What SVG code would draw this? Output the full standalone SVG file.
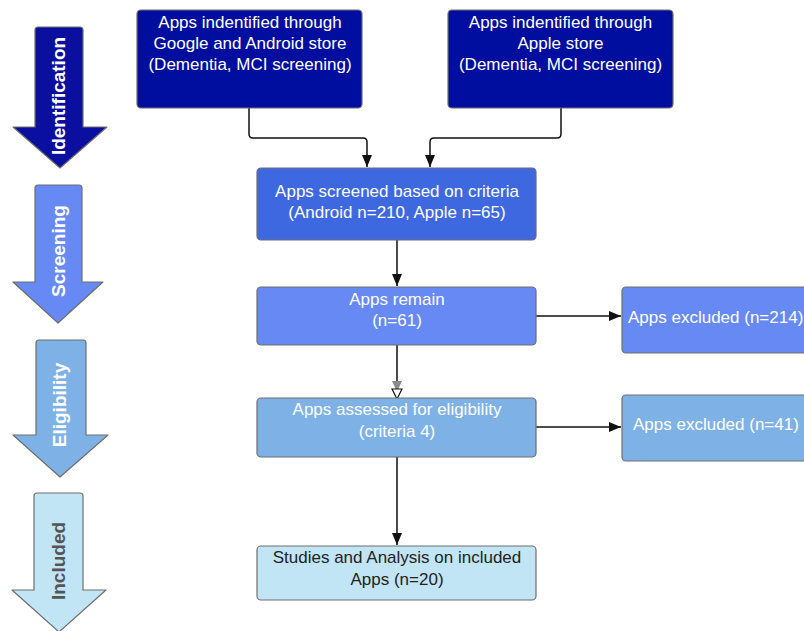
<svg xmlns="http://www.w3.org/2000/svg" width="804" height="631" viewBox="0 0 804 631">
<style>
  .box { stroke: #6e6e6e; stroke-width: 1.2; }
  .t { font-family: "Liberation Sans", Arial, sans-serif; font-size: 17px; text-anchor: middle; fill: #ffffff; }
  .tl { font-family: "Liberation Sans", Arial, sans-serif; font-size: 17px; fill: #ffffff; }
  .dark { fill: #222222; }
  .phase { stroke: #6e6e6e; stroke-width: 1.2; stroke-linejoin: round; }
  .pt { font-family: "Liberation Sans", Arial, sans-serif; font-size: 19px; font-weight: bold; text-anchor: middle; fill: #ffffff; }
  .conn { fill: none; stroke: #111111; stroke-width: 1.5; }
</style>
<defs>
  <marker id="ah" viewBox="0 0 12 10" refX="12" refY="5" markerWidth="12" markerHeight="10" markerUnits="userSpaceOnUse" orient="auto">
    <path d="M0,0 L12,5 L0,10 Z" fill="#111111"/>
  </marker>
</defs>
<rect width="804" height="631" fill="#ffffff"/>

<g id="phase-identification">
  <path class="phase" fill="#0a0fa0" d="M38,27 H80 Q83,27 83,30 V127 H107 L60,168 L13,127 H35 V30 Q35,27 38,27 Z"/>
  <text class="pt" transform="translate(65,96) rotate(-90)">Identification</text>
</g>
<g id="phase-screening">
  <path class="phase" fill="#6689f4" d="M38,185 H79 Q82,185 82,188 V282 H103 L58,323 L13,282 H35 V188 Q35,185 38,185 Z"/>
  <text class="pt" transform="translate(65,251) rotate(-90)">Screening</text>
</g>
<g id="phase-eligibility">
  <path class="phase" fill="#7eb2e6" d="M39,340 H83 Q86,340 86,343 V435 H108 L60,477 L13,435 H36 V343 Q36,340 39,340 Z"/>
  <text class="pt" transform="translate(66,405) rotate(-90)">Eligibility</text>
</g>
<g id="phase-included">
  <path class="phase" fill="#c2e5f6" d="M37,493 H80 Q83,493 83,496 V590 H106 L59,632 L12,590 H34 V496 Q34,493 37,493 Z"/>
  <text class="pt" fill="#555555" style="fill:#555555" transform="translate(65,561) rotate(-90)">Included</text>
</g>

<g id="connectors">
  <path class="conn" d="M249,108 V134 Q249,138 253,138 H363 Q367,138 367,142 V167" marker-end="url(#ah)"/>
  <path class="conn" d="M561,108 V134 Q561,138 557,138 H434 Q430,138 430,142 V167" marker-end="url(#ah)"/>
  <path class="conn" d="M397,240 V286" marker-end="url(#ah)"/>
  <path class="conn" d="M536,316 H621" marker-end="url(#ah)"/>
  <path class="conn" d="M397,345 V398"/>
  <path d="M392,381 L402,381 L397,392 Z" fill="#8a8a8a"/>
  <path d="M392,389 L402,389 L397,399 Z" fill="#ffffff" stroke="#111111" stroke-width="1.2"/>
  <path class="conn" d="M536,427 H621" marker-end="url(#ah)"/>
  <path class="conn" d="M397,457 V545" marker-end="url(#ah)"/>
</g>

<g id="google-store">
  <rect class="box" x="137" y="10" width="225" height="98" rx="4" fill="#000ea0"/>
  <text class="t" x="250" y="28">Apps indentified through</text>
  <text class="t" x="250" y="49">Google and Android store</text>
  <text class="t" x="250" y="70">(Dementia, MCI screening)</text>
</g>
<g id="apple-store">
  <rect class="box" x="448" y="10" width="225" height="98" rx="4" fill="#000ea0"/>
  <text class="t" x="560.5" y="28">Apps indentified through</text>
  <text class="t" x="560.5" y="49">Apple store</text>
  <text class="t" x="560.5" y="70">(Dementia, MCI screening)</text>
</g>
<g id="screened">
  <rect class="box" x="257" y="168" width="279" height="72" rx="4" fill="#3e68df"/>
  <text class="t" x="397" y="197">Apps screened based on criteria</text>
  <text class="t" x="397" y="218">(Android n=210, Apple n=65)</text>
</g>
<g id="remain">
  <rect class="box" x="257" y="287" width="279" height="58" rx="4" fill="#6689f4"/>
  <text class="t" x="397" y="305">Apps remain</text>
  <text class="t" x="397" y="326">(n=61)</text>
</g>
<g id="excluded-214">
  <rect class="box" x="622" y="287" width="200" height="66" rx="4" fill="#6689f4"/>
  <text class="tl" x="628" y="323">Apps excluded (n=214)</text>
</g>
<g id="eligibility">
  <rect class="box" x="257" y="398" width="279" height="59" rx="4" fill="#7eb2e6"/>
  <text class="t" x="397" y="415">Apps assessed for eligibility</text>
  <text class="t" x="397" y="437">(criteria 4)</text>
</g>
<g id="excluded-41">
  <rect class="box" x="622" y="395" width="200" height="66" rx="4" fill="#7eb2e6"/>
  <text class="tl" x="633" y="430">Apps excluded (n=41)</text>
</g>
<g id="included">
  <rect class="box" x="257" y="546" width="279" height="54" rx="4" fill="#c2e5f6"/>
  <text class="t dark" x="397" y="563">Studies and Analysis on included</text>
  <text class="t dark" x="397" y="585">Apps (n=20)</text>
</g>
</svg>
